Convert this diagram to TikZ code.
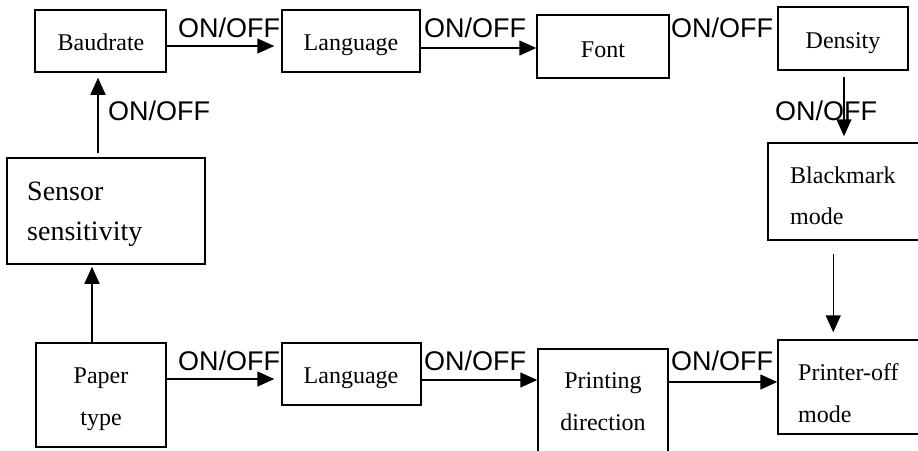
\documentclass[tikz,border=0pt]{standalone}
\usepackage{fontspec}
\setmainfont{Liberation Serif}
\newfontfamily\arialf{Liberation Sans}
\usetikzlibrary{arrows.meta}
\begin{document}
\begin{tikzpicture}[x=1pt,y=-1pt,
  box/.style={draw, line width=1.5pt, inner sep=0pt},
  btxt/.style={inner sep=0pt, anchor=base, font=\fontsize{24}{24}\selectfont},
  btxtl/.style={inner sep=0pt, anchor=base west, font=\fontsize{24}{24}\selectfont},
  onoff/.style={inner sep=0pt, anchor=base west, font=\arialf\fontsize{27}{27}\selectfont},
  arr/.style={line width=1.5pt, -{Triangle[length=17pt,width=15pt]}}]
\useasboundingbox (0,0) rectangle (918,450);
\clip (0,0) rectangle (918,450);

% boxes
\node[box, minimum width=131pt, minimum height=62pt] (baud)  at (100.5,41) {};
\node[box, minimum width=138pt, minimum height=62pt] (lang1) at (351,41) {};
\node[box, minimum width=132pt, minimum height=63pt] (font)  at (603,46.5) {};
\node[box, minimum width=130pt, minimum height=63pt] (dens)  at (843,38.5) {};
\node[box, minimum width=198pt, minimum height=106pt] (sens) at (106,211) {};
\node[box, minimum width=160pt, minimum height=97pt] (black) at (848,191.5) {};
\node[box, minimum width=130pt, minimum height=104pt] (paper) at (101,395) {};
\node[box, minimum width=139pt, minimum height=62pt] (lang2) at (351.5,374) {};
\node[box, minimum width=130pt, minimum height=104pt] (print) at (603,401) {};
\node[box, minimum width=160pt, minimum height=94pt] (poff)  at (858,387) {};

% box texts
\node[btxt] (baud-t)  at (101,50) {Baudrate};
\node[btxt] (lang1-t) at (351,50) {Language};
\node[btxt] (font-t)  at (603,57) {Font};
\node[btxt] (dens-t)  at (843,48) {Density};
\node[inner sep=0pt, anchor=base west, font=\fontsize{28}{28}\selectfont] (sens-t1) at (27,200) {Sensor};
\node[inner sep=0pt, anchor=base west, font=\fontsize{28}{28}\selectfont] (sens-t2) at (27,240) {sensitivity};
\node[btxtl] (black-t1) at (790,183) {Blackmark};
\node[btxtl] (black-t2) at (790,224) {mode};
\node[btxt] (paper-t1) at (101,383) {Paper};
\node[btxt] (paper-t2) at (101,425) {type};
\node[btxt] (lang2-t) at (351,383) {Language};
\node[btxt] (print-t1) at (603,388) {Printing};
\node[btxt] (print-t2) at (603,430) {direction};
\node[btxtl] (poff-t1) at (798,380) {Printer-off};
\node[btxtl] (poff-t2) at (798,422) {mode};

% ON/OFF labels
\node[onoff] (l1) at (178,37) {ON/OFF};
\node[onoff] (l2) at (424,37) {ON/OFF};
\node[onoff] (l3) at (671,37) {ON/OFF};
\node[onoff] (l4) at (108,120) {ON/OFF};
\node[onoff] (l5) at (775,120) {ON/OFF};
\node[onoff] (l6) at (178,370) {ON/OFF};
\node[onoff] (l7) at (424,370) {ON/OFF};
\node[onoff] (l8) at (671,370) {ON/OFF};

% connectors
\draw[arr] ([yshift=-5pt]baud.east) -- ([xshift=-7pt,yshift=-5pt]baud.east -| lang1.west);
\draw[arr] ([yshift=-7pt]lang1.east) -- ([yshift=-7pt]lang1.east -| font.west);
\draw[arr] ([xshift=1pt,yshift=-6pt]dens.south) -- ([xshift=1pt,yshift=6pt]dens.south |- black.north);
\draw[arr] ([xshift=-8pt,yshift=4pt]sens.north) -- ([xshift=-8pt,yshift=-5pt]sens.north |- baud.south);
\draw[arr] ([xshift=-9pt]paper.north) -- ([xshift=-9pt,yshift=-2pt]paper.north |- sens.south);
\draw[arr] ([xshift=66pt,yshift=-13pt]black.south west) -- ([xshift=66pt,yshift=7pt]black.south west |- poff.north);
\draw[arr] ([yshift=16pt]paper.east) -- ([xshift=-7pt,yshift=16pt]paper.east -| lang2.west);
\draw[arr] ([yshift=-6pt]lang2.east) -- ([yshift=-6pt]lang2.east -| print.west);
\draw[arr] ([yshift=19pt]print.east) -- ([yshift=19pt]print.east -| poff.west);
\end{tikzpicture}
\end{document}
